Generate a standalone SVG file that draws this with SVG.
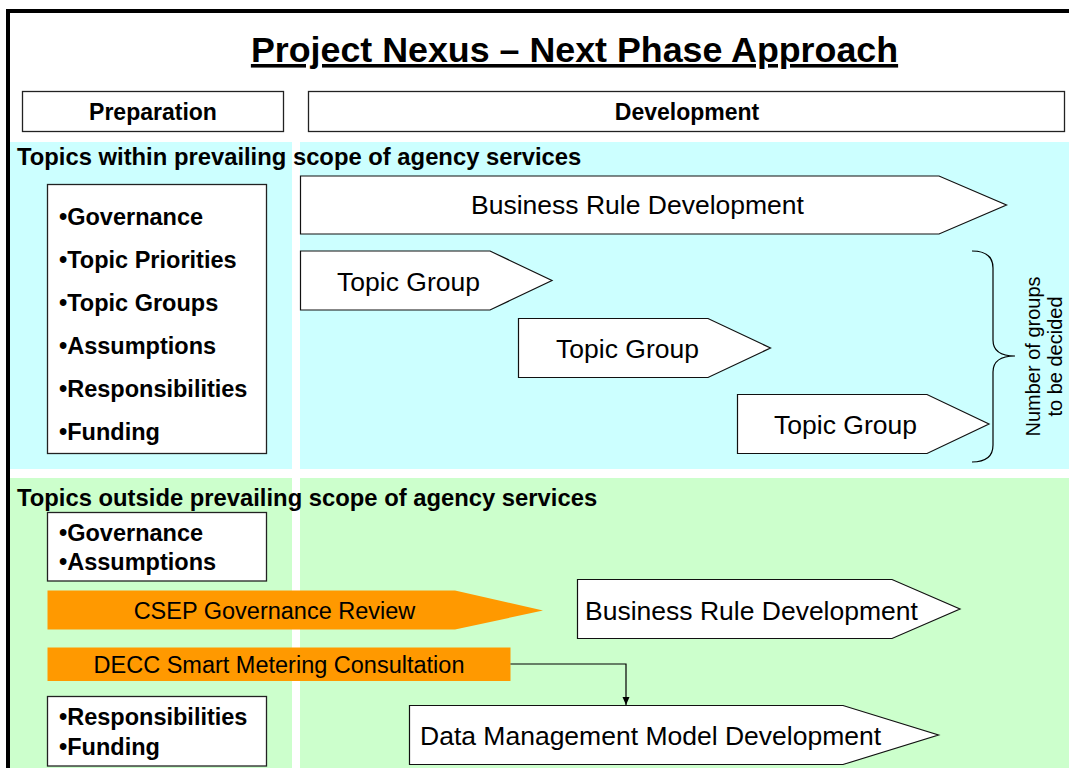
<svg xmlns="http://www.w3.org/2000/svg" width="1069" height="768" viewBox="0 0 1069 768">
<style>
.bold{font-family:"Liberation Sans",Arial,sans-serif;font-weight:bold;fill:#000}
.reg{font-family:"Liberation Sans",Arial,sans-serif;fill:#000}
.box{fill:#fff;stroke:#222;stroke-width:1.3}
.arrow{fill:#fff;stroke:#111;stroke-width:1.2}
.orange{fill:#FF9900;stroke:none}
.cyan{fill:#CCFFFF}
.green{fill:#CCFFCC}
.lbl{font-size:26.5px}
.item{font-size:23.5px}
.conn{fill:none;stroke:#000;stroke-width:1.2}
</style>
<defs>
<marker id="ah" markerWidth="8" markerHeight="8" refX="8" refY="4" orient="auto" markerUnits="userSpaceOnUse">
<path d="M0,0.5 L8,4 L0,7.5 z" fill="#000"/>
</marker>
</defs>
<rect x="0" y="0" width="1069" height="768" fill="#fff"/>
<g id="panels">
<rect class="cyan" x="10" y="142" width="282" height="327"/>
<rect class="cyan" x="300" y="142" width="769" height="327"/>
<rect class="green" x="10" y="478" width="282" height="290"/>
<rect class="green" x="300" y="478" width="769" height="290"/>
</g>
<rect id="frame" x="8" y="11" width="1100" height="800" fill="none" stroke="#000" stroke-width="4"/>
<g id="title">
<text class="bold" x="574.5" y="62" font-size="35.8" text-anchor="middle" text-decoration="underline">Project Nexus – Next Phase Approach</text>
</g>
<g id="preparation">
<rect class="box" x="22.5" y="91.5" width="261" height="40"/>
<text class="bold" x="153" y="120" font-size="23" text-anchor="middle">Preparation</text>
</g>
<g id="development">
<rect class="box" x="308.5" y="91.5" width="756" height="40"/>
<text class="bold" x="687" y="120" font-size="23" text-anchor="middle">Development</text>
</g>
<g id="section-within">
<text class="bold" x="17" y="165" font-size="23.8">Topics within prevailing scope of agency services</text>
</g>
<g id="section-outside">
<text class="bold" x="17" y="506" font-size="23.8">Topics outside prevailing scope of agency services</text>
</g>
<g id="prep-list-within">
<rect class="box" x="47.5" y="184.5" width="219" height="269"/>
<text class="bold item" x="59" y="225">•Governance</text>
<text class="bold item" x="59" y="268">•Topic Priorities</text>
<text class="bold item" x="59" y="311">•Topic Groups</text>
<text class="bold item" x="59" y="354">•Assumptions</text>
<text class="bold item" x="59" y="397">•Responsibilities</text>
<text class="bold item" x="59" y="440">•Funding</text>
</g>
<g id="brd-within">
<path class="arrow" d="M300.5,176 H939 L1006.5,205 L939,234 H300.5 Z"/>
<text class="reg lbl" x="637.5" y="214" text-anchor="middle">Business Rule Development</text>
</g>
<g id="topic-group-1">
<path class="arrow" d="M300.5,251 H490 L552,280.5 L490,310 H300.5 Z"/>
<text class="reg lbl" x="408.5" y="291" text-anchor="middle">Topic Group</text>
</g>
<g id="topic-group-2">
<path class="arrow" d="M518.5,318.5 H708 L770.5,348 L708,377.5 H518.5 Z"/>
<text class="reg lbl" x="627.5" y="357.5" text-anchor="middle">Topic Group</text>
</g>
<g id="topic-group-3">
<path class="arrow" d="M737.5,394.5 H927 L989,424 L927,453.5 H737.5 Z"/>
<text class="reg lbl" x="845.5" y="433.5" text-anchor="middle">Topic Group</text>
</g>
<g id="brace">
<path d="M972,251 Q993,251 993,268 L993,340 Q993,356 1015,356 Q993,356 993,372 L993,445 Q993,462 972,462" fill="none" stroke="#000" stroke-width="1.2"/>
<g transform="translate(1040,356.5) rotate(-90)">
<text class="reg" x="0" y="0" font-size="20" text-anchor="middle">Number of groups</text>
<text class="reg" x="0" y="22" font-size="20" text-anchor="middle">to be decided</text>
</g>
</g>
<g id="prep-list-outside-1">
<rect class="box" x="47.5" y="512.5" width="219" height="68.5"/>
<text class="bold item" x="59" y="541">•Governance</text>
<text class="bold item" x="59" y="569.5">•Assumptions</text>
</g>
<g id="csep-review">
<path class="orange" d="M47.5,590.5 H455 L543,610.5 L455,629.5 H47.5 Z"/>
<text class="reg" x="274.5" y="618.5" font-size="23.5" text-anchor="middle">CSEP Governance Review</text>
</g>
<g id="decc-consultation">
<rect class="orange" x="47.5" y="647.5" width="463" height="33.5"/>
<text class="reg" x="279" y="673" font-size="23.5" text-anchor="middle">DECC Smart Metering Consultation</text>
</g>
<g id="brd-outside">
<path class="arrow" d="M577.5,579.5 H892 L960,609 L892,638.5 H577.5 Z"/>
<text class="reg lbl" x="585" y="619.5">Business Rule Development</text>
</g>
<g id="dmm-development">
<path class="arrow" d="M409.5,705.5 H843 L938.5,735 L843,764.5 H409.5 Z"/>
<text class="reg lbl" x="420" y="745">Data Management Model Development</text>
</g>
<g id="prep-list-outside-2">
<rect class="box" x="47.5" y="696.5" width="219" height="69.5"/>
<text class="bold item" x="59" y="725">•Responsibilities</text>
<text class="bold item" x="59" y="755">•Funding</text>
</g>
<g id="connectors">
<path class="conn" d="M510.5,664 H626 V705" marker-end="url(#ah)"/>
</g>
</svg>
